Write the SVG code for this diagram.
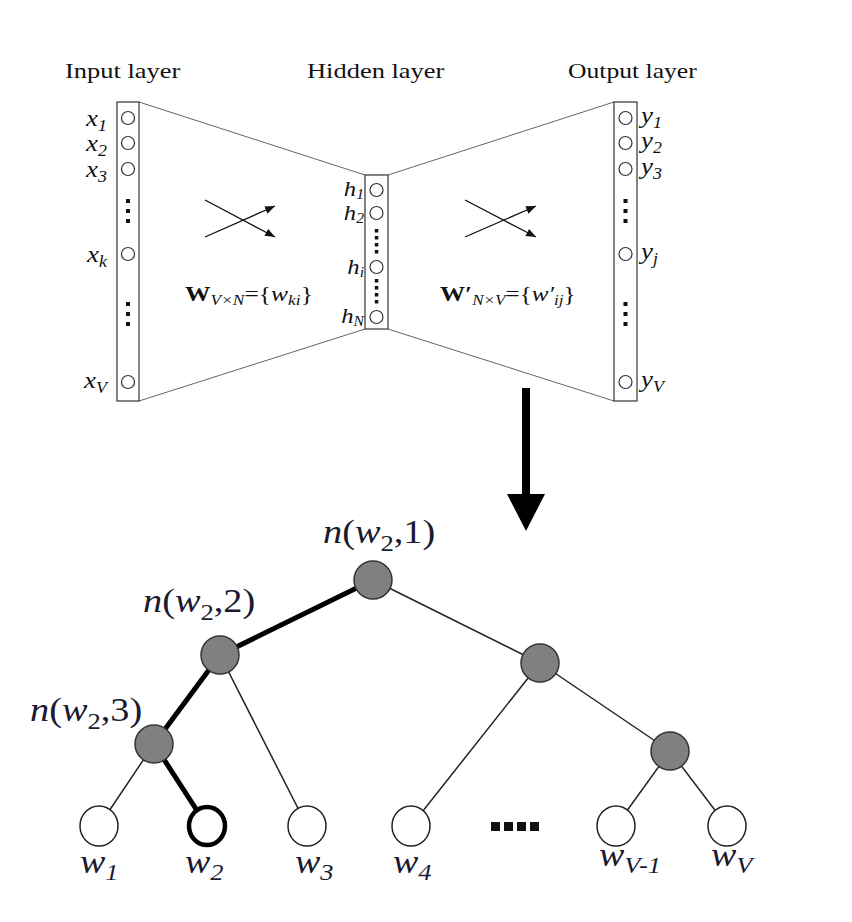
<svg xmlns="http://www.w3.org/2000/svg" width="852" height="922" viewBox="0 0 852 922">
<defs>
<marker id="ah" markerUnits="userSpaceOnUse" markerWidth="12" markerHeight="10" refX="10" refY="4" orient="auto">
<path d="M0,0 L10,4 L0,8 Z" fill="#111"/>
</marker>
</defs>
<style>
.t{font-family:"Liberation Serif","Times New Roman",serif;fill:#111}
.it{font-style:italic}
.box{fill:#fff;stroke:#333;stroke-width:1.2}
.unit{fill:#fff;stroke:#333;stroke-width:1.2}
.trap{stroke:#666;stroke-width:1;fill:none}
.cross{stroke:#111;stroke-width:1.3;fill:none;marker-end:url(#ah)}
.dot{fill:#111}
.edge{stroke:#222;stroke-width:1.5;fill:none}
.thick{stroke:#000;stroke-width:5;fill:none}
.inner{fill:#808080;stroke:#333;stroke-width:1.5}
.leaf{fill:#fff;stroke:#222;stroke-width:1.5}
.leafsel{fill:#fff;stroke:#000;stroke-width:4.5}
.tl{font-family:"Liberation Serif","Times New Roman",serif;fill:#1a1a30;font-size:33px}
</style>
<rect width="852" height="922" fill="#fff"/>

<!-- layer titles -->
<g transform="translate(65,78) scale(1.26,1)"><text class="t" font-size="21">Input layer</text></g>
<g transform="translate(307,78) scale(1.26,1)"><text class="t" font-size="21">Hidden layer</text></g>
<g transform="translate(568,78) scale(1.22,1)"><text class="t" font-size="21">Output layer</text></g>

<!-- connectors / trapezoid -->
<g id="connectors">
<line class="trap" x1="139" y1="102" x2="365" y2="175"/>
<line class="trap" x1="139" y1="401" x2="365" y2="329"/>
<line class="trap" x1="388" y1="175" x2="614" y2="102"/>
<line class="trap" x1="388" y1="329" x2="614" y2="401"/>
<line class="cross" x1="205" y1="200" x2="275" y2="237"/>
<line class="cross" x1="205" y1="237" x2="275" y2="206"/>
<line class="cross" x1="465" y1="200" x2="536" y2="237"/>
<line class="cross" x1="465" y1="237" x2="536" y2="206"/>
<!-- big arrow -->
<rect x="522" y="388" width="8" height="108" fill="#000"/>
<polygon points="507,494 545,494 526,531" fill="#000"/>
<!-- tree edges -->
<line class="edge" x1="373" y1="580" x2="540" y2="663"/>
<line class="edge" x1="220" y1="655" x2="307" y2="826"/>
<line class="edge" x1="154" y1="744" x2="99" y2="826"/>
<line class="edge" x1="540" y1="663" x2="411" y2="826"/>
<line class="edge" x1="540" y1="663" x2="670" y2="751"/>
<line class="edge" x1="670" y1="751" x2="616" y2="826"/>
<line class="edge" x1="670" y1="751" x2="727" y2="826"/>
<line class="thick" x1="373" y1="580" x2="220" y2="655"/>
<line class="thick" x1="220" y1="655" x2="154" y2="744"/>
<line class="thick" x1="154" y1="744" x2="207" y2="826"/>
</g>

<!-- weight labels -->
<g transform="translate(185,301) scale(1.16,1)"><text class="t" font-size="22"><tspan font-weight="bold">W</tspan><tspan class="it" font-size="15" dy="4">V×N</tspan><tspan dy="-4">={</tspan><tspan class="it">w</tspan><tspan class="it" font-size="15" dy="4">ki</tspan><tspan dy="-4">}</tspan></text></g>
<g transform="translate(440,301) scale(1.14,1)"><text class="t" font-size="22"><tspan font-weight="bold">W′</tspan><tspan class="it" font-size="15" dy="4">N×V</tspan><tspan dy="-4">={</tspan><tspan class="it">w′</tspan><tspan class="it" font-size="15" dy="4">ij</tspan><tspan dy="-4">}</tspan></text></g>

<!-- input layer -->
<g id="input-layer">
<rect class="box" x="117" y="102" width="22" height="299"/>
<circle class="unit" cx="128" cy="118" r="6.5"/>
<circle class="unit" cx="128" cy="143" r="6.5"/>
<circle class="unit" cx="128" cy="169" r="6.5"/>
<circle class="unit" cx="128" cy="254" r="6.5"/>
<circle class="unit" cx="128" cy="382" r="6.5"/>
<rect class="dot" x="126" y="199" width="4" height="4"/>
<rect class="dot" x="126" y="209" width="4" height="4"/>
<rect class="dot" x="126" y="219" width="4" height="4"/>
<rect class="dot" x="126" y="302" width="4" height="4"/>
<rect class="dot" x="126" y="312" width="4" height="4"/>
<rect class="dot" x="126" y="322" width="4" height="4"/>
<g transform="translate(107,126) scale(1.12,1)"><text class="t it" font-size="24" text-anchor="end">x<tspan font-size="16" dy="5">1</tspan></text></g>
<g transform="translate(107,151) scale(1.12,1)"><text class="t it" font-size="24" text-anchor="end">x<tspan font-size="16" dy="5">2</tspan></text></g>
<g transform="translate(107,177) scale(1.12,1)"><text class="t it" font-size="24" text-anchor="end">x<tspan font-size="16" dy="5">3</tspan></text></g>
<g transform="translate(107,262) scale(1.12,1)"><text class="t it" font-size="24" text-anchor="end">x<tspan font-size="16" dy="5">k</tspan></text></g>
<g transform="translate(107,388) scale(1.12,1)"><text class="t it" font-size="24" text-anchor="end">x<tspan font-size="16" dy="5">V</tspan></text></g>
</g>

<!-- hidden layer -->
<g id="hidden-layer">
<rect class="box" x="365" y="175" width="23" height="154"/>
<circle class="unit" cx="376.5" cy="190" r="6.5"/>
<circle class="unit" cx="376.5" cy="213" r="6.5"/>
<circle class="unit" cx="376.5" cy="267" r="6.5"/>
<circle class="unit" cx="376.5" cy="317" r="6.5"/>
<rect class="dot" x="374.8" y="229" width="3.5" height="3.5"/>
<rect class="dot" x="374.8" y="236" width="3.5" height="3.5"/>
<rect class="dot" x="374.8" y="243" width="3.5" height="3.5"/>
<rect class="dot" x="374.8" y="250" width="3.5" height="3.5"/>
<rect class="dot" x="374.8" y="279" width="3.5" height="3.5"/>
<rect class="dot" x="374.8" y="286" width="3.5" height="3.5"/>
<rect class="dot" x="374.8" y="293" width="3.5" height="3.5"/>
<rect class="dot" x="374.8" y="300" width="3.5" height="3.5"/>
<g transform="translate(364,196) scale(1.12,1)"><text class="t it" font-size="22" text-anchor="end">h<tspan font-size="14" dy="3">1</tspan></text></g>
<g transform="translate(364,220) scale(1.12,1)"><text class="t it" font-size="22" text-anchor="end">h<tspan font-size="14" dy="3">2</tspan></text></g>
<g transform="translate(364,274) scale(1.12,1)"><text class="t it" font-size="22" text-anchor="end">h<tspan font-size="14" dy="3">i</tspan></text></g>
<g transform="translate(364,323) scale(1.12,1)"><text class="t it" font-size="22" text-anchor="end">h<tspan font-size="14" dy="3">N</tspan></text></g>
</g>

<!-- output layer -->
<g id="output-layer">
<rect class="box" x="614" y="102" width="23" height="299"/>
<circle class="unit" cx="625.5" cy="118" r="6.5"/>
<circle class="unit" cx="625.5" cy="143" r="6.5"/>
<circle class="unit" cx="625.5" cy="169" r="6.5"/>
<circle class="unit" cx="625.5" cy="254" r="6.5"/>
<circle class="unit" cx="625.5" cy="382" r="6.5"/>
<rect class="dot" x="623.5" y="199" width="4" height="4"/>
<rect class="dot" x="623.5" y="209" width="4" height="4"/>
<rect class="dot" x="623.5" y="219" width="4" height="4"/>
<rect class="dot" x="623.5" y="302" width="4" height="4"/>
<rect class="dot" x="623.5" y="312" width="4" height="4"/>
<rect class="dot" x="623.5" y="322" width="4" height="4"/>
<g transform="translate(641,123) scale(1.12,1)"><text class="t it" font-size="24">y<tspan font-size="16" dy="5">1</tspan></text></g>
<g transform="translate(641,148) scale(1.12,1)"><text class="t it" font-size="24">y<tspan font-size="16" dy="5">2</tspan></text></g>
<g transform="translate(641,174) scale(1.12,1)"><text class="t it" font-size="24">y<tspan font-size="16" dy="5">3</tspan></text></g>
<g transform="translate(641,259) scale(1.12,1)"><text class="t it" font-size="24">y<tspan font-size="16" dy="5">j</tspan></text></g>
<g transform="translate(641,387) scale(1.12,1)"><text class="t it" font-size="24">y<tspan font-size="16" dy="5">V</tspan></text></g>
</g>

<!-- tree nodes -->
<g id="node-root">
<circle class="inner" cx="373" cy="580" r="19"/>
<g transform="translate(323,543) scale(1.16,1)"><text class="tl"><tspan class="it">n</tspan>(<tspan class="it">w</tspan><tspan font-size="23" dy="8">2</tspan><tspan dy="-8">,1)</tspan></text></g>
</g>
<g id="node-l">
<circle class="inner" cx="220" cy="655" r="19"/>
<g transform="translate(143,612) scale(1.16,1)"><text class="tl"><tspan class="it">n</tspan>(<tspan class="it">w</tspan><tspan font-size="23" dy="8">2</tspan><tspan dy="-8">,2)</tspan></text></g>
</g>
<g id="node-ll">
<circle class="inner" cx="154" cy="744" r="19"/>
<g transform="translate(30,721) scale(1.16,1)"><text class="tl"><tspan class="it">n</tspan>(<tspan class="it">w</tspan><tspan font-size="23" dy="8">2</tspan><tspan dy="-8">,3)</tspan></text></g>
</g>
<g id="node-r"><circle class="inner" cx="540" cy="663" r="19"/></g>
<g id="node-rr"><circle class="inner" cx="670" cy="751" r="19"/></g>

<g id="leaf-w1">
<ellipse class="leaf" cx="99" cy="826" rx="19" ry="20"/>
<g transform="translate(80,873) scale(1.15,1)"><text class="tl it">w<tspan font-size="23" dy="7">1</tspan></text></g>
</g>
<g id="leaf-w2">
<ellipse class="leafsel" cx="207" cy="826" rx="18" ry="19"/>
<g transform="translate(185,873) scale(1.15,1)"><text class="tl it">w<tspan font-size="23" dy="7">2</tspan></text></g>
</g>
<g id="leaf-w3">
<ellipse class="leaf" cx="307" cy="826" rx="19" ry="20"/>
<g transform="translate(295,873) scale(1.15,1)"><text class="tl it">w<tspan font-size="23" dy="7">3</tspan></text></g>
</g>
<g id="leaf-w4">
<ellipse class="leaf" cx="411" cy="826" rx="19" ry="20"/>
<g transform="translate(393,873) scale(1.15,1)"><text class="tl it">w<tspan font-size="23" dy="7">4</tspan></text></g>
</g>
<g id="leaf-dots">
<rect class="dot" x="491" y="822" width="9" height="9"/>
<rect class="dot" x="504" y="822" width="9" height="9"/>
<rect class="dot" x="517" y="822" width="9" height="9"/>
<rect class="dot" x="530" y="822" width="9" height="9"/>
</g>
<g id="leaf-wv1">
<ellipse class="leaf" cx="616" cy="826" rx="19" ry="20"/>
<g transform="translate(599,866) scale(1.15,1)"><text class="tl it">w<tspan font-size="23" dy="7">V-1</tspan></text></g>
</g>
<g id="leaf-wv">
<ellipse class="leaf" cx="727" cy="826" rx="19" ry="20"/>
<g transform="translate(711,866) scale(1.15,1)"><text class="tl it">w<tspan font-size="23" dy="7">V</tspan></text></g>
</g>
</svg>
